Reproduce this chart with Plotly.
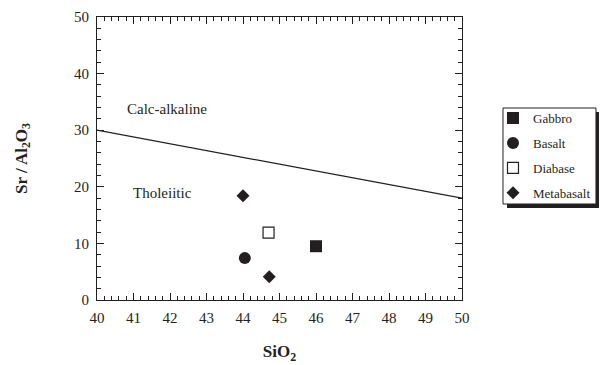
import plotly.graph_objects as go

# ---- data ----
gabbro_x = [46.0]
gabbro_y = [9.5]
basalt_x = [44.05]
basalt_y = [7.4]
diabase_x = [44.7]
diabase_y = [11.9]
metabasalt_x = [44.0, 44.72]
metabasalt_y = [18.4, 4.1]

boundary_x = [40, 50]
boundary_y = [30, 18]

x_ticks = [40, 41, 42, 43, 44, 45, 46, 47, 48, 49, 50]
y_ticks = [0, 10, 20, 30, 40, 50]

INK = "#231f20"
FONT = "Liberation Serif, Times New Roman, serif"

fig = go.Figure()

fig.add_trace(go.Scatter(x=boundary_x, y=boundary_y, mode="lines",
                         line=dict(color=INK, width=1.3), showlegend=False,
                         hoverinfo="skip"))

fig.add_trace(go.Scatter(x=gabbro_x, y=gabbro_y, mode="markers", name="Gabbro",
                         legendgroup="g1",
                         marker=dict(symbol="square", size=12, color=INK)))
fig.add_trace(go.Scatter(x=basalt_x, y=basalt_y, mode="markers", name="Basalt",
                         legendgroup="g2",
                         marker=dict(symbol="circle", size=12, color=INK)))
fig.add_trace(go.Scatter(x=diabase_x, y=diabase_y, mode="markers", name="Diabase",
                         legendgroup="g3",
                         marker=dict(symbol="square", size=11, color="white",
                                     line=dict(color=INK, width=1.2))))
fig.add_trace(go.Scatter(x=metabasalt_x, y=metabasalt_y, mode="markers", name="Metabasalt",
                         legendgroup="g4",
                         marker=dict(symbol="diamond", size=10, color=INK)))

fig.add_annotation(x=40.78, y=33.7, text="Calc-alkaline", showarrow=False,
                   xanchor="left", yanchor="middle", font=dict(size=15, color=INK))
fig.add_annotation(x=40.93, y=18.9, text="Tholeiitic", showarrow=False,
                   xanchor="left", yanchor="middle", font=dict(size=15, color=INK))

axis_common = dict(
    showgrid=False, zeroline=False, showline=True, linecolor=INK, linewidth=1,
    mirror="ticks", ticks="inside", ticklen=7, tickwidth=1, tickcolor=INK,
    tickfont=dict(size=15, color=INK), ticklabelstandoff=4,
)

fig.update_xaxes(range=[40, 50], tickvals=x_ticks,
                 minor=dict(dtick=0.2, ticks="inside", ticklen=4, tickcolor=INK, tickwidth=1),
                 title=dict(text="<b>SiO<sub>2</sub></b>", font=dict(size=17, color=INK), standoff=20),
                 **axis_common)
fig.update_yaxes(range=[0, 50], tickvals=y_ticks,
                 minor=dict(dtick=2, ticks="inside", ticklen=4, tickcolor=INK, tickwidth=1),
                 title=dict(text="<b>Sr / Al<sub>2</sub>O<sub>3</sub></b>", font=dict(size=17, color=INK), standoff=42),
                 **axis_common)

# legend frame with drop shadow (paper coordinates); legend itself drawn transparent on top
fig.add_shape(type="rect", xref="paper", yref="paper",
              x0=1.1233, x1=1.3753, y0=0.3251, y1=0.6643,
              fillcolor=INK, line=dict(width=0), layer="above")
fig.add_shape(type="rect", xref="paper", yref="paper",
              x0=1.1123, x1=1.3671, y0=0.3392, y1=0.6784,
              fillcolor="white", line=dict(color=INK, width=1), layer="above")

fig.update_layout(
    width=600, height=365,
    margin=dict(l=97, r=138, t=17, b=65, autoexpand=False),
    paper_bgcolor="white", plot_bgcolor="white",
    font=dict(family=FONT, color=INK),
    showlegend=True,
    legend=dict(x=1.0849, y=0.6955, xanchor="left", yanchor="top",
                font=dict(size=13, color=INK), bgcolor="rgba(0,0,0,0)",
                borderwidth=0,
                traceorder="grouped", tracegroupgap=5, itemwidth=30),
)

fig.write_html("out.html")
